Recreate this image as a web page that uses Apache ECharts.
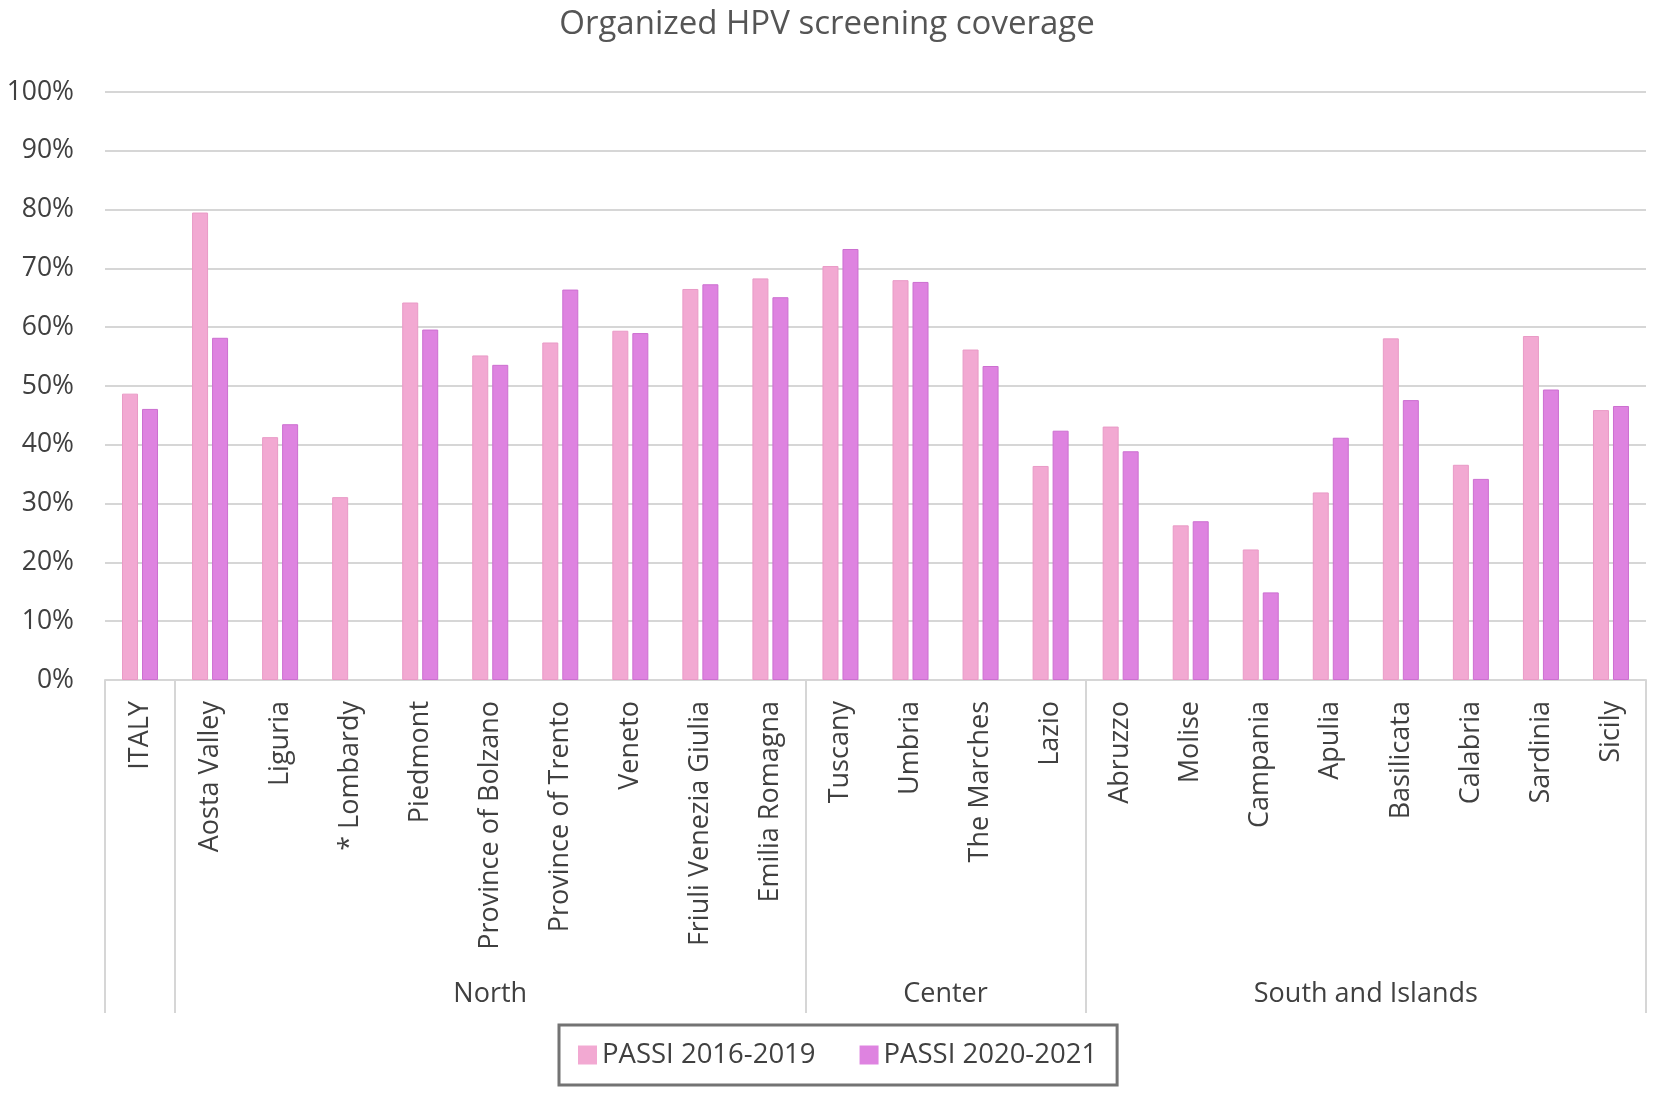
<!DOCTYPE html>
<html>
<head>
<meta charset="utf-8">
<title>Organized HPV screening coverage</title>
<script src="https://cdn.jsdelivr.net/npm/echarts@6/dist/echarts.min.js"></script>
<style>
  html, body { margin: 0; padding: 0; background: #fff; }
  #chart { width: 1654px; height: 1097px; }
</style>
</head>
<body>
<div id="chart"></div>
<script>
// regions, in chart order
var regions = ['ITALY', 'Aosta Valley', 'Liguria', '* Lombardy', 'Piedmont', 'Province of Bolzano',
  'Province of Trento', 'Veneto', 'Friuli Venezia Giulia', 'Emilia Romagna',
  'Tuscany', 'Umbria', 'The Marches', 'Lazio',
  'Abruzzo', 'Molise', 'Campania', 'Apulia', 'Basilicata', 'Calabria', 'Sardinia', 'Sicily'];

// macro areas and how many regions each covers
var groupNames = ['', 'North', 'Center', 'South and Islands'];
var groupSizes = [1, 9, 4, 8];

var seriesNames = ['PASSI 2016-2019', 'PASSI 2020-2021'];

// coverage %
var passi2016 = [48.7, 79.5, 41.3, 31.1, 64.2, 55.2, 57.4, 59.4, 66.5, 68.3,
  70.4, 68.0, 56.2, 36.4,
  43.1, 26.3, 22.2, 31.9, 58.1, 36.6, 58.5, 45.9];
var passi2020 = [46.1, 58.2, 43.5, null, 59.6, 53.6, 66.4, 59.0, 67.3, 65.1,
  73.3, 67.7, 53.4, 42.4,
  38.9, 27.0, 14.9, 41.2, 47.6, 34.2, 49.4, 46.6];

var yTicks = [0, 10, 20, 30, 40, 50, 60, 70, 80, 90, 100];

// group boundaries and group centres, in category units
var bounds = [0];
var centers = [];
groupSizes.forEach(function (n, i) {
  var start = bounds[bounds.length - 1];
  bounds.push(start + n);
  centers.push(groupNames[i] ? start + n / 2 : null);
});

var font = '"Open Sans", "Noto Sans", sans-serif';
var textColor = '#404040';
var lineGray = '#d6d6d6';

var chart = echarts.init(document.getElementById('chart'));

var option = {
  backgroundColor: '#ffffff',
  animation: false,
  textStyle: { fontFamily: font },
  title: {
    text: 'Organized HPV screening coverage',
    left: 'center',
    top: 3,
    textStyle: { fontFamily: font, fontSize: 33, fontWeight: 'normal', color: '#555555' }
  },
  legend: {
    data: seriesNames,
    left: 559,
    top: 1025,
    icon: 'rect',
    itemWidth: 19,
    itemHeight: 19,
    itemGap: 44,
    padding: [16, 20, 16, 19],
    borderColor: '#737373',
    borderWidth: 3,
    itemStyle: { borderWidth: 0 },
    textStyle: { fontFamily: font, fontSize: 27.5, color: textColor }
  },
  grid: [
    { left: 105, right: 8, top: 92, bottom: 417, containLabel: false },
    { left: 105, right: 8, top: 92, bottom: 417, containLabel: false }
  ],
  xAxis: [
    {
      type: 'category',
      gridIndex: 0,
      data: regions,
      axisLine: { show: true, lineStyle: { color: lineGray, width: 2 } },
      axisTick: { show: false },
      axisLabel: {
        interval: 0,
        rotate: 90,
        margin: 21,
        fontFamily: font,
        fontSize: 27,
        color: textColor
      }
    },
    {
      // macro-area separators and names
      type: 'value',
      gridIndex: 1,
      position: 'bottom',
      min: 0,
      max: regions.length,
      axisLine: { show: false },
      splitLine: { show: false },
      axisTick: {
        show: true,
        customValues: bounds,
        length: 333,
        lineStyle: { color: lineGray, width: 2 }
      },
      axisLabel: {
        customValues: centers.filter(function (c) { return c !== null; }),
        margin: 301,
        fontFamily: font,
        fontSize: 27,
        color: textColor,
        formatter: function (v) {
          var i = centers.indexOf(v);
          return i >= 0 ? groupNames[i] : '';
        }
      }
    }
  ],
  yAxis: [
    {
      type: 'value',
      gridIndex: 0,
      min: yTicks[0],
      max: yTicks[yTicks.length - 1],
      interval: 10,
      axisLine: { show: false },
      axisTick: { show: false },
      splitLine: { lineStyle: { color: lineGray, width: 2 } },
      axisLabel: {
        margin: 31,
        fontFamily: font,
        fontSize: 26.5,
        color: textColor,
        formatter: '{value}%'
      }
    },
    {
      type: 'value',
      gridIndex: 1,
      min: 0,
      max: 1,
      show: false
    }
  ],
  series: [
    {
      name: seriesNames[0],
      type: 'bar',
      xAxisIndex: 0,
      yAxisIndex: 0,
      data: passi2016,
      barWidth: 16,
      barGap: '25%',
      itemStyle: { color: '#f2a9d2', borderColor: '#e99ac6', borderWidth: 1 }
    },
    {
      name: seriesNames[1],
      type: 'bar',
      xAxisIndex: 0,
      yAxisIndex: 0,
      data: passi2020,
      barWidth: 16,
      barGap: '25%',
      itemStyle: { color: '#de83e0', borderColor: '#cc6fd0', borderWidth: 1 }
    }
  ]
};

chart.setOption(option);
</script>
</body>
</html>
